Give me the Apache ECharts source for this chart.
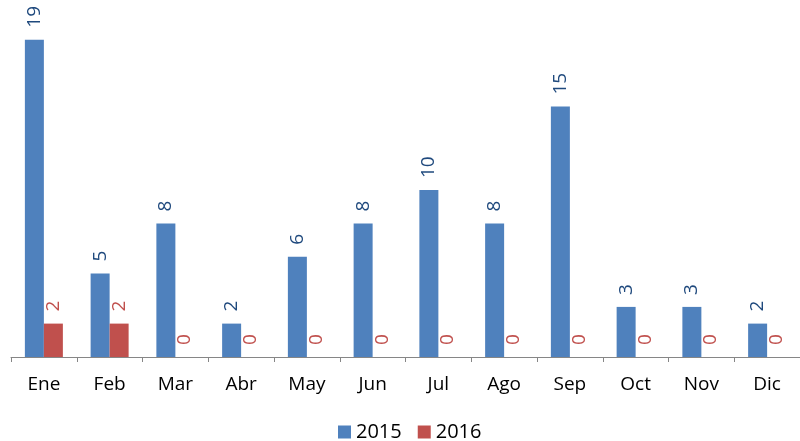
<!DOCTYPE html>
<html>
<head>
<meta charset="utf-8">
<script src="https://cdn.jsdelivr.net/npm/echarts@6/dist/echarts.min.js"></script>
<style>
  html, body { margin: 0; padding: 0; background: #fff; }
  #chart { width: 800px; height: 441px; }
</style>
</head>
<body>
<div id="chart"></div>
<script>
  const months = ['Ene', 'Feb', 'Mar', 'Abr', 'May', 'Jun', 'Jul', 'Ago', 'Sep', 'Oct', 'Nov', 'Dic']
  const values2015 = [19, 5, 8, 2, 6, 8, 10, 8, 15, 3, 3, 2]
  const values2016 = [2, 2, 0, 0, 0, 0, 0, 0, 0, 0, 0, 0]

  const font = '"Open Sans", sans-serif'

  function barLabel(color) {
    return {
      show: true,
      position: 'top',
      rotate: 90,
      align: 'left',
      verticalAlign: 'middle',
      distance: 12,
      color: color,
      fontSize: 19,
      fontFamily: font
    }
  }

  const chart = echarts.init(document.getElementById('chart'))
  chart.setOption({
    animation: false,
    grid: { left: 11, right: 0, top: 23, bottom: 84 },
    legend: {
      bottom: -6,
      left: 333,
      icon: 'rect',
      itemWidth: 13,
      itemHeight: 13,
      itemGap: 16,
      textStyle: { fontSize: 20, fontFamily: font, color: '#000' },
      data: ['2015', '2016']
    },
    xAxis: {
      type: 'category',
      data: months,
      axisLine: { lineStyle: { color: '#868686', width: 1 } },
      axisTick: { show: true, length: 5, lineStyle: { color: '#868686' } },
      axisLabel: { color: '#000', fontSize: 19, fontFamily: font, margin: 18 }
    },
    yAxis: {
      type: 'value',
      min: 0,
      max: 20,
      show: false,
      splitLine: { show: false }
    },
    series: [
      {
        name: '2015',
        type: 'bar',
        data: values2015,
        barWidth: 19,
        barGap: '0%',
        itemStyle: { color: '#4F81BD' },
        label: barLabel('#1F497D')
      },
      {
        name: '2016',
        type: 'bar',
        data: values2016,
        barWidth: 19,
        itemStyle: { color: '#C0504D' },
        label: barLabel('#C0504D')
      }
    ]
  })
</script>
</body>
</html>
